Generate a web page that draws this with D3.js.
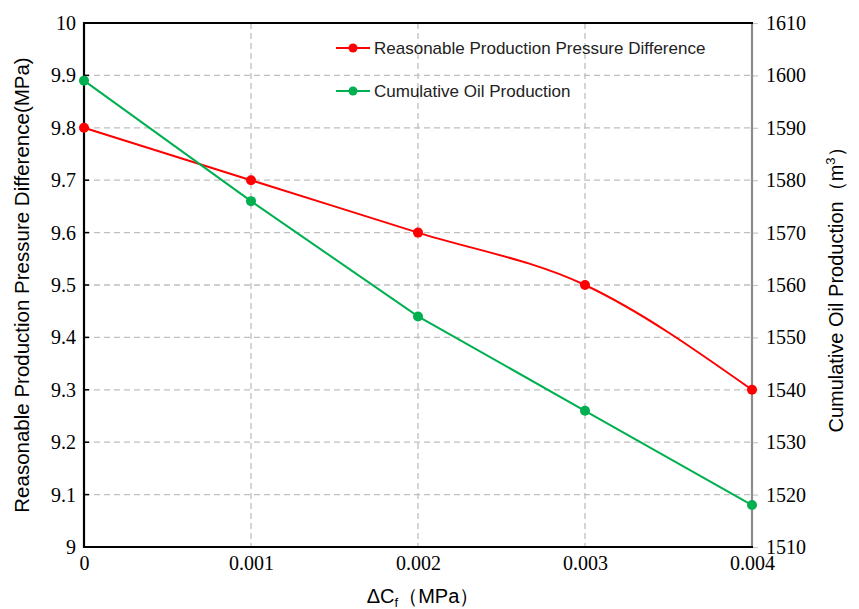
<!DOCTYPE html>
<html>
<head>
<meta charset="utf-8">
<script src="https://cdn.jsdelivr.net/npm/d3@7"></script>
<style>
  html, body { margin: 0; padding: 0; background: #fff; }
  svg { display: block; }
</style>
</head>
<body>
<svg id="chart" width="859" height="609"></svg>
<script>
// Compressibility change ΔCf and the two response series
const deltaCf = [0, 0.001, 0.002, 0.003, 0.004];
const pressureDiff = [9.8, 9.7, 9.6, 9.5, 9.3];          // MPa, left axis
const cumulativeOil = [1599, 1576, 1554, 1536, 1518];      // m³, right axis
const xTicks = [0, 0.001, 0.002, 0.003, 0.004];
const xTickLabels = ["0", "0.001", "0.002", "0.003", "0.004"];
const leftTicks = [9, 9.1, 9.2, 9.3, 9.4, 9.5, 9.6, 9.7, 9.8, 9.9, 10];
const leftTickLabels = ["9", "9.1", "9.2", "9.3", "9.4", "9.5", "9.6", "9.7", "9.8", "9.9", "10"];
const rightTicks = [1510, 1520, 1530, 1540, 1550, 1560, 1570, 1580, 1590, 1600, 1610];
const rightTickLabels = ["1510", "1520", "1530", "1540", "1550", "1560", "1570", "1580", "1590", "1600", "1610"];
const seriesNames = ["Reasonable Production Pressure Difference", "Cumulative Oil Production"];
const seriesColors = ["#ff0000", "#00b050"];

const svg = d3.select("#chart");
const m = { left: 84, right: 752, top: 23, bottom: 547 };

const x = d3.scaleLinear().domain([0, 0.004]).range([m.left, m.right]);
const yL = d3.scaleLinear().domain([9, 10]).range([m.bottom, m.top]);
const yR = d3.scaleLinear().domain([1510, 1610]).range([m.bottom, m.top]);

const serif = "'Liberation Serif', 'Times New Roman', serif";
const sans = "'Liberation Sans', Arial, sans-serif";

// Dashed grid
const grid = svg.append("g").attr("stroke", "#bfbfbf").attr("stroke-width", 1.3)
  .attr("stroke-dasharray", "6,4").attr("fill", "none");
grid.selectAll("line.h").data(leftTicks.slice(1, -1)).join("line")
  .attr("x1", m.left).attr("x2", m.right)
  .attr("y1", d => yL(d)).attr("y2", d => yL(d));
grid.selectAll("line.v").data(xTicks.slice(1, -1)).join("line")
  .attr("x1", d => x(d)).attr("x2", d => x(d))
  .attr("y1", m.top).attr("y2", m.bottom);

// Left axis
const leftAxis = svg.append("g").attr("transform", `translate(${m.left},0)`)
  .call(d3.axisLeft(yL).tickValues(leftTicks).tickSize(0).tickPadding(8)
    .tickFormat((d, i) => leftTickLabels[i]));
leftAxis.select(".domain").remove();
leftAxis.selectAll("text").attr("font-family", serif).attr("font-size", 20).attr("fill", "#000");
svg.append("g").selectAll("line").data(leftTicks).join("line")
  .attr("x1", m.left).attr("x2", m.left + 5)
  .attr("y1", d => yL(d)).attr("y2", d => yL(d))
  .attr("stroke", "#000").attr("stroke-width", 1.5);

// Right axis
const rightAxis = svg.append("g").attr("transform", `translate(${m.right},0)`)
  .call(d3.axisRight(yR).tickValues(rightTicks).tickSize(6).tickPadding(8)
    .tickFormat((d, i) => rightTickLabels[i]));
rightAxis.select(".domain").remove();
rightAxis.selectAll("line").attr("stroke", "#c8c8c8").attr("stroke-width", 1.2);
rightAxis.selectAll("text").attr("font-family", serif).attr("font-size", 20).attr("fill", "#000");

// Bottom axis
const bottomAxis = svg.append("g").attr("transform", `translate(0,${m.bottom})`)
  .call(d3.axisBottom(x).tickValues(xTicks).tickSize(0).tickPadding(9)
    .tickFormat((d, i) => xTickLabels[i]));
bottomAxis.select(".domain").remove();
bottomAxis.selectAll("text").attr("font-family", serif).attr("font-size", 20).attr("fill", "#000");

// Frame
svg.append("line").attr("x1", m.right).attr("x2", m.right).attr("y1", m.top).attr("y2", m.bottom)
  .attr("stroke", "#8c8c8c").attr("stroke-width", 2.2);
svg.append("line").attr("x1", m.left).attr("x2", m.right + 1).attr("y1", m.top).attr("y2", m.top)
  .attr("stroke", "#000").attr("stroke-width", 2.2);
svg.append("line").attr("x1", m.left).attr("x2", m.right + 1).attr("y1", m.bottom).attr("y2", m.bottom)
  .attr("stroke", "#000").attr("stroke-width", 2.2);
svg.append("line").attr("x1", m.left).attr("x2", m.left).attr("y1", m.top - 1).attr("y2", m.bottom + 1)
  .attr("stroke", "#000").attr("stroke-width", 2.2);

// Series
const pressurePts = deltaCf.map((d, i) => [x(d), yL(pressureDiff[i])]);
const oilPts = deltaCf.map((d, i) => [x(d), yR(cumulativeOil[i])]);

svg.append("path").attr("d", d3.line().curve(d3.curveMonotoneX)(pressurePts))
  .attr("fill", "none").attr("stroke", seriesColors[0]).attr("stroke-width", 2);
svg.append("path").attr("d", d3.line()(oilPts))
  .attr("fill", "none").attr("stroke", seriesColors[1]).attr("stroke-width", 2);

svg.append("g").selectAll("circle").data(pressurePts).join("circle")
  .attr("cx", d => d[0]).attr("cy", d => d[1]).attr("r", 5).attr("fill", seriesColors[0]);
svg.append("g").selectAll("circle").data(oilPts).join("circle")
  .attr("cx", d => d[0]).attr("cy", d => d[1]).attr("r", 5).attr("fill", seriesColors[1]);

// Legend
const legend = svg.append("g");
seriesNames.forEach((name, i) => {
  const ly = 48 + i * 43;
  legend.append("line").attr("x1", 336).attr("x2", 370).attr("y1", ly).attr("y2", ly)
    .attr("stroke", seriesColors[i]).attr("stroke-width", 2);
  legend.append("circle").attr("cx", 353).attr("cy", ly).attr("r", 4.5).attr("fill", seriesColors[i]);
  legend.append("text").attr("x", 374).attr("y", ly + 6).text(name)
    .attr("font-family", sans).attr("font-size", 17).attr("fill", "#222");
});

// Axis titles
svg.append("text")
  .attr("transform", `translate(29,${(m.top + m.bottom) / 2}) rotate(-90)`)
  .attr("text-anchor", "middle").attr("font-family", sans).attr("font-size", 20.5).attr("fill", "#000")
  .text("Reasonable Production Pressure Difference(MPa)");

const rt = svg.append("text")
  .attr("transform", `translate(843,${(m.top + m.bottom) / 2}) rotate(-90)`)
  .attr("text-anchor", "middle").attr("font-family", sans).attr("font-size", 20).attr("fill", "#000");
rt.append("tspan").text("Cumulative Oil Production（m");
rt.append("tspan").attr("font-size", 13).attr("dy", -8).text("3");
rt.append("tspan").attr("dy", 8).text("）");

const xt = svg.append("text").attr("x", 423).attr("y", 603)
  .attr("text-anchor", "middle").attr("font-family", sans).attr("font-size", 20).attr("fill", "#000");
xt.append("tspan").text("ΔC");
xt.append("tspan").attr("font-size", 13).attr("dy", 4).text("f");
xt.append("tspan").attr("dy", -4).text("（MPa）");
</script>
</body>
</html>
